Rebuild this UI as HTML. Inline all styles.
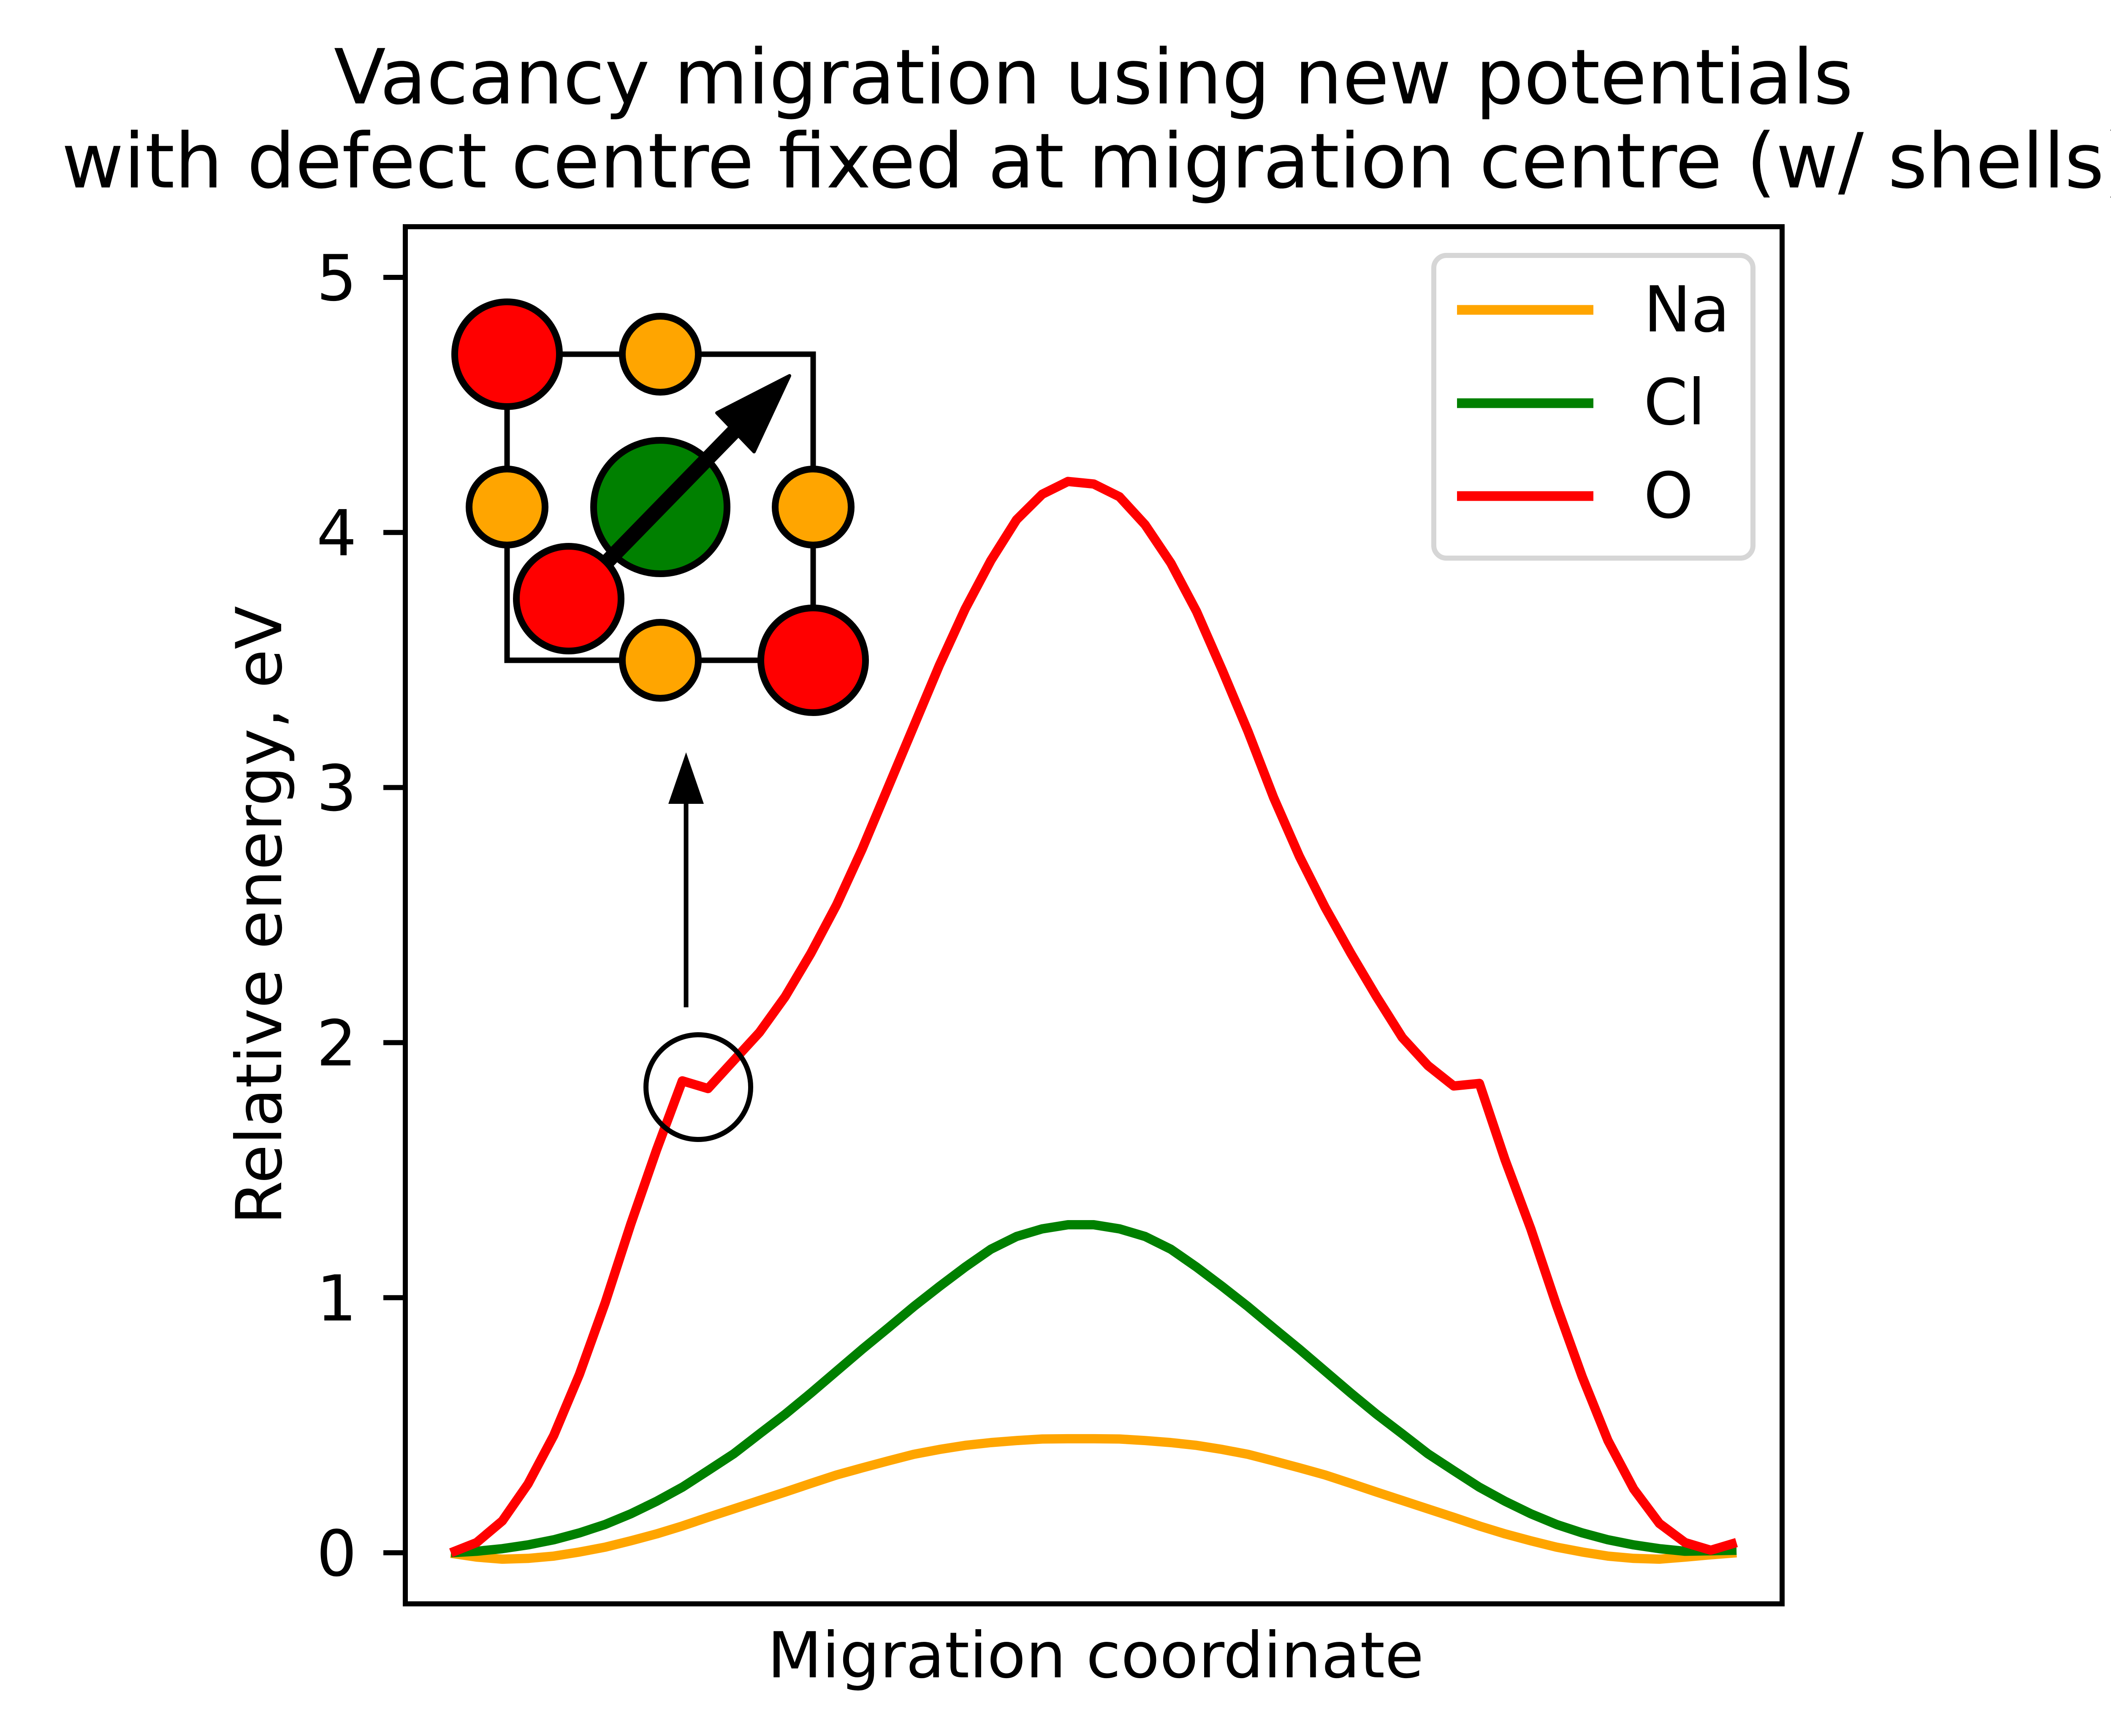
<!DOCTYPE html>
<html><head><meta charset="utf-8"><style>
html,body{margin:0;padding:0;background:#fff;}
svg{display:block;}
text{font-family:"DejaVu Sans","Liberation Sans",sans-serif;fill:#000;}
</style></head><body>
<svg id="chart" width="5181" height="4112" viewBox="0 0 5181 4112" xmlns="http://www.w3.org/2000/svg">
<rect x="0" y="0" width="5181" height="4112" fill="#fff"/>
<text x="2590" y="245" font-size="180" text-anchor="middle">Vacancy migration using new potentials</text>
<text x="2600" y="444" font-size="180" text-anchor="middle">with defect centre fixed at migration centre (w/ shells)</text>
<g id="series"></g>
<g id="inset">
  <rect x="1201" y="839" width="725" height="725" fill="none" stroke="#000" stroke-width="13"/>
  <circle cx="1201" cy="839" r="124" fill="#ff0000" stroke="#000" stroke-width="16"/>
  <circle cx="1564" cy="839" r="90" fill="#ffa500" stroke="#000" stroke-width="16"/>
  <circle cx="1201" cy="1201" r="90" fill="#ffa500" stroke="#000" stroke-width="16"/>
  <circle cx="1926" cy="1201" r="90" fill="#ffa500" stroke="#000" stroke-width="16"/>
  <circle cx="1564" cy="1564" r="90" fill="#ffa500" stroke="#000" stroke-width="16"/>
  <circle cx="1564" cy="1201" r="158" fill="#008000" stroke="#000" stroke-width="16"/>
  <circle cx="1926" cy="1564" r="124" fill="#ff0000" stroke="#000" stroke-width="16"/>
  <line x1="1380" y1="1390" x2="1760" y2="1000" stroke="#000" stroke-width="36"/>
  <polygon points="1870,890 1698,978 1786,1070" fill="#000" stroke="#000" stroke-width="8" stroke-linejoin="round"/>
  <circle cx="1347" cy="1418" r="124" fill="#ff0000" stroke="#000" stroke-width="16"/>
</g>
<g>
  <circle cx="1654" cy="2575" r="124" fill="none" stroke="#000" stroke-width="12"/>
  <line x1="1625" y1="2386" x2="1625" y2="1890" stroke="#000" stroke-width="11"/>
  <polygon points="1625,1782 1583,1904 1667,1904" fill="#000"/>
</g>
<g id="yticks"></g>
<rect x="960" y="537" width="3261" height="3262" fill="none" stroke="#000" stroke-width="12"/>
<g>
  <rect x="3396" y="605" width="756" height="717" rx="30" ry="30" fill="#fff" fill-opacity="0.8" stroke="#d6d6d6" stroke-width="12"/>
  <line x1="3451" y1="734" x2="3774" y2="734" stroke="#ffa500" stroke-width="23"/>
  <text x="3893" y="785" font-size="150">Na</text>
  <line x1="3451" y1="955" x2="3774" y2="955" stroke="#008000" stroke-width="23"/>
  <text x="3893" y="1005" font-size="150">Cl</text>
  <line x1="3451" y1="1175" x2="3774" y2="1175" stroke="#ff0000" stroke-width="23"/>
  <text x="3893" y="1226" font-size="150">O</text>
</g>
<text x="2595" y="3973" font-size="150" text-anchor="middle">Migration coordinate</text>
<text x="666" y="2168" font-size="150" text-anchor="middle" transform="rotate(-90 666 2168)">Relative energy, eV</text>
</svg>
<script>
const naValues = [-0.002,-0.017,-0.025,-0.022,-0.013,0.003,0.022,0.047,0.074,0.105,0.139,0.172,0.205,0.238,0.272,0.305,0.333,0.36,0.386,0.405,0.421,0.432,0.44,0.446,0.447,0.447,0.446,0.44,0.432,0.421,0.405,0.386,0.36,0.333,0.305,0.272,0.238,0.205,0.172,0.139,0.105,0.074,0.047,0.022,0.003,-0.013,-0.022,-0.025,-0.017,-0.008,0.0];
const clValues = [0,0.006,0.016,0.031,0.051,0.078,0.111,0.153,0.202,0.257,0.322,0.388,0.466,0.543,0.626,0.712,0.798,0.881,0.965,1.044,1.12,1.19,1.24,1.27,1.286,1.286,1.27,1.24,1.19,1.12,1.044,0.965,0.881,0.798,0.712,0.626,0.543,0.466,0.388,0.322,0.257,0.202,0.153,0.111,0.078,0.051,0.031,0.016,0.006,0.008,0.01];
const oValues = [0,0.04,0.125,0.27,0.46,0.70,0.98,1.29,1.58,1.85,1.82,1.93,2.04,2.18,2.35,2.54,2.76,3.00,3.24,3.48,3.70,3.89,4.05,4.15,4.20,4.19,4.14,4.03,3.88,3.69,3.46,3.22,2.96,2.73,2.53,2.35,2.18,2.02,1.91,1.83,1.84,1.54,1.27,0.97,0.69,0.44,0.25,0.115,0.04,0.01,0.04];
const yTickValues = [0,1,2,3,4,5];
const yTickLabels = ["0","1","2","3","4","5"];

const NS = "http://www.w3.org/2000/svg";
const X0 = 1068, X1 = 4113, Y0PIX = 3678, YUNIT = 604.2;
function xScale(i, n){ return X0 + (X1 - X0) * i / (n - 1); }
function yScale(v){ return Y0PIX - v * YUNIT; }

const seriesG = document.getElementById('series');
function drawSeries(vals, color, name){
  const p = document.createElementNS(NS, 'polyline');
  p.setAttribute('points', vals.map((v,i)=>xScale(i, vals.length).toFixed(1)+','+yScale(v).toFixed(1)).join(' '));
  p.setAttribute('fill', 'none');
  p.setAttribute('stroke', color);
  p.setAttribute('stroke-width', '22');
  p.setAttribute('stroke-linejoin', 'round');
  
  
  seriesG.appendChild(p);
}
drawSeries(naValues, '#ffa500', 'series-na-line');
drawSeries(clValues, '#008000', 'series-cl-line');
drawSeries(oValues, '#ff0000', 'series-o-line');

const yG = document.getElementById('yticks');
yTickValues.forEach((v, k) => {
  const y = yScale(v);
  const t = document.createElementNS(NS, 'line');
  t.setAttribute('x1', 908); t.setAttribute('x2', 960);
  t.setAttribute('y1', y); t.setAttribute('y2', y);
  t.setAttribute('stroke', '#000'); t.setAttribute('stroke-width', '12');
  
  
  yG.appendChild(t);
  const lb = document.createElementNS(NS, 'text');
  lb.setAttribute('x', 845); lb.setAttribute('y', y + 54);
  lb.setAttribute('font-size', '150'); lb.setAttribute('text-anchor', 'end');
  lb.textContent = yTickLabels[k];
  
  
  yG.appendChild(lb);
});
</script>
</body></html>
